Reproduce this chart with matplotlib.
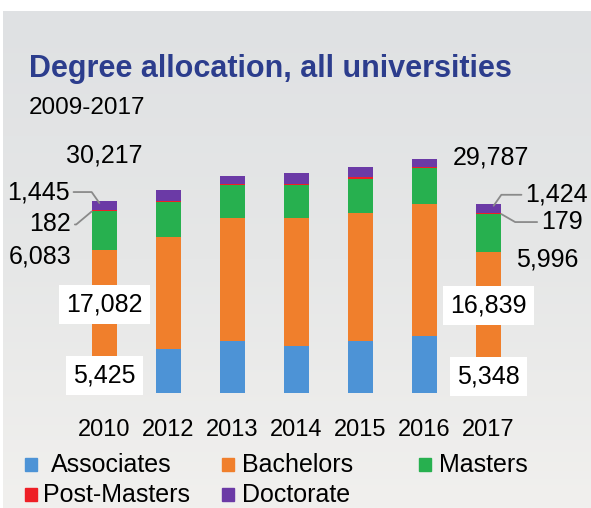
import matplotlib
matplotlib.use("Agg")
import matplotlib.pyplot as plt
import numpy as np
from matplotlib.colors import LinearSegmentedColormap
from matplotlib.patches import Rectangle

# degrees awarded per year, stacked bottom -> top
years = ["2010", "2012", "2013", "2014", "2015", "2016", "2017"]
associates = [5425, 6900, 8200, 7400, 8200, 9000, 5348]
bachelors = [17082, 17650, 19350, 20150, 20150, 20750, 16839]
masters = [6083, 5500, 5150, 5170, 5350, 5650, 5996]
post_masters = [182, 180, 180, 180, 300, 180, 179]
doctorate = [1445, 1700, 1270, 1730, 1570, 1260, 1424]
total_labels = {"2010": 30217, "2017": 29787}  # totals as printed in the source

series = ["Associates", "Bachelors", "Masters", "Post-Masters", "Doctorate"]
colors = ["#4d93d6", "#f07f2c", "#27b04f", "#ee1f26", "#6b3aa6"]

W, H = 591, 508
plt.rcParams["font.family"] = ["Liberation Sans", "DejaVu Sans"]
fig = plt.figure(figsize=(W / 100, H / 100), dpi=100)
fig.patch.set_facecolor("white")

# grey panel behind everything
bg = fig.add_axes([3 / W, 0, 1 - 3 / W, 497 / H], zorder=-5)
cmap = LinearSegmentedColormap.from_list("panel", ["#dfe1e3", "#e6e7e7", "#f1f0ee"])
bg.imshow(np.linspace(0, 1, 256)[:, None], aspect="auto", cmap=cmap)
bg.axis("off")

YMAX = 38000
ax_h = YMAX / 157.5  # px
ax = fig.add_axes([72.5 / W, 115 / H, 448 / W, ax_h / H])
ax.set_facecolor("none")
for s in ax.spines.values():
    s.set_visible(False)

x = np.arange(len(years))
w = 0.4
data = np.array([associates, bachelors, masters, post_masters, doctorate], dtype=float)
bottoms = np.vstack([np.zeros(len(years)), np.cumsum(data, axis=0)[:-1]])
for vals, bot, col in zip(data, bottoms, colors):
    ax.bar(x, vals, w, bottom=bot, color=col, linewidth=0, zorder=2)

ax.set_xlim(-0.5, len(years) - 0.5)
ax.set_ylim(0, YMAX)
ax.set_yticks([])
ax.set_xticks(x, years)
ax.tick_params(axis="x", length=0, pad=19, labelsize=17)

FS = 18
box = dict(boxstyle="square,pad=0.3", fc="white", ec="none")
line = dict(arrowstyle="-", color="#8a8a8a", lw=1.3, shrinkA=1, shrinkB=0)


def fmt(v):
    return f"{v:,.0f}"


def label_year(i, side):
    tops = bottoms[:, i] + data[:, i]
    sgn = -1 if side == "left" else 1
    ha = "right" if side == "left" else "left"
    edge = i + sgn * w / 2
    # total above the bar
    ax.annotate(fmt(total_labels[years[i]]), (i, tops[-1]), xytext=(0 if sgn < 0 else 2, 46),
                textcoords="offset pixels", ha="center", va="center", fontsize=FS)
    # associates and bachelors inside white boxes
    for k in (0, 1):
        ax.text(i, bottoms[k, i] + data[k, i] / 2, fmt(data[k, i]), ha="center", va="center",
                fontsize=FS, bbox=box, zorder=4)
    # masters beside the bar
    ax.annotate(fmt(data[2, i]), (edge, bottoms[2, i] + data[2, i] / 2),
                xytext=(sgn * (20 if sgn < 0 else 15), -26), textcoords="offset pixels",
                ha=ha, va="center", fontsize=FS)
    # doctorate with elbow leader
    ax.annotate(fmt(data[4, i]), (i + sgn * 0.08, tops[-1] - 300),
                xytext=(sgn * 30 + (0 if sgn < 0 else 2), 11), textcoords="offset pixels",
                ha=ha, va="center", fontsize=FS,
                arrowprops=dict(line, relpos=(1 if sgn < 0 else 0, 0.5),
                                connectionstyle=f"angle,angleA=0,angleB={125 if sgn < 0 else 55},rad=0"))
    # post-masters with short leader
    ax.annotate(fmt(data[3, i]), (edge, tops[2]),
                xytext=(sgn * (21 if sgn < 0 else 40), -13 if sgn < 0 else -8),
                textcoords="offset pixels", ha=ha, va="center", fontsize=FS,
                arrowprops=dict(line, relpos=(1 if sgn < 0 else 0, 0.5),
                                connectionstyle=f"angle,angleA=0,angleB={-30 if sgn > 0 else 40},rad=0"))


label_year(0, "left")
label_year(len(years) - 1, "right")

# title block
fig.text(29 / W, 1 - 77 / H, "Degree allocation, all universities", fontsize=22,
         fontweight="bold", color="#2c3d8d", va="baseline")
fig.text(29 / W, 1 - 114 / H, "2009-2017", fontsize=17.5, va="baseline")

# legend drawn by hand to match the uneven column layout
leg_pos = [(25, 472), (222, 472), (419, 472), (25, 502), (222, 502)]
leg_gap = [26, 20, 20, 18, 20]
for name, col, (lx, ly), gap in zip(series, colors, leg_pos, leg_gap):
    fig.add_artist(Rectangle((lx / W, 1 - (ly - 1) / H), 12 / W, 13 / H, color=col,
                             transform=fig.transFigure))
    fig.text((lx + gap) / W, 1 - ly / H, name, fontsize=18, va="baseline")

fig.savefig("out.png", dpi=100)
